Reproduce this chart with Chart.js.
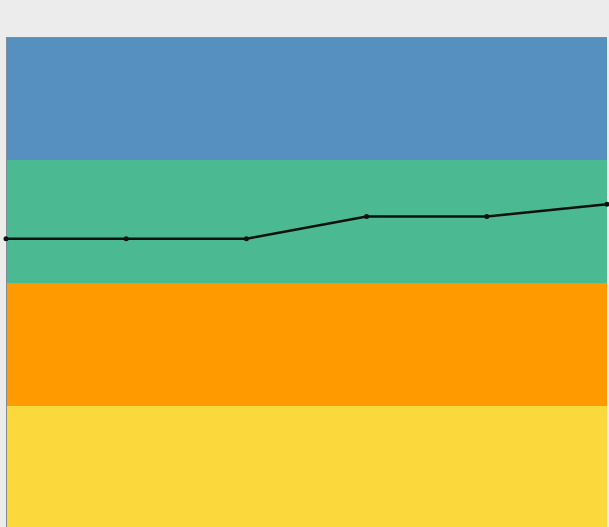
<!DOCTYPE html>
<html>
<head>
<meta charset="utf-8">
<script src="https://cdn.jsdelivr.net/npm/chart.js@4"></script>
<style>
  html, body { margin: 0; padding: 0; background: #ececec; overflow: hidden; }
  #wrap { width: 609px; height: 530px; }
</style>
</head>
<body>
<div id="wrap"><canvas id="c" width="609" height="530"></canvas></div>
<script>
const categories = ["1", "2", "3", "4", "5", "6"];
const seriesValues = [59, 59, 59, 63.5, 63.5, 66];
const bandFrom = [0, 25, 50, 75];
const bandTo = [25, 50, 75, 100];
const bandColors = ["#fbd93d", "#ff9a00", "#4bb991", "#5590c0"];

const bandsPlugin = {
  id: 'bands',
  beforeDatasetsDraw(chart) {
    const { ctx, chartArea, scales } = chart;
    const y = scales.y;
    ctx.save();
    for (let i = 0; i < bandFrom.length; i++) {
      const top = y.getPixelForValue(bandTo[i]);
      const bot = y.getPixelForValue(bandFrom[i]);
      ctx.fillStyle = bandColors[i];
      ctx.fillRect(chartArea.left, top, chartArea.right - chartArea.left, bot - top);
    }
    ctx.strokeStyle = '#7f8c96';
    ctx.lineWidth = 1;
    ctx.beginPath();
    ctx.moveTo(chartArea.left + 0.5, chartArea.bottom);
    ctx.lineTo(chartArea.left + 0.5, chartArea.top + 0.5);
    ctx.lineTo(chartArea.right, chartArea.top + 0.5);
    ctx.stroke();
    ctx.restore();
  }
};

new Chart(document.getElementById('c'), {
  type: 'line',
  data: {
    labels: categories,
    datasets: [{
      data: seriesValues,
      borderColor: '#111111',
      backgroundColor: '#111111',
      borderWidth: 2.5,
      pointRadius: 2.5,
      pointBackgroundColor: '#111111',
      pointBorderWidth: 0,
      tension: 0,
      clip: false
    }]
  },
  options: {
    responsive: false,
    animation: false,
    layout: { autoPadding: false, padding: { left: 6, right: 2, top: 37, bottom: 1 } },
    plugins: { legend: { display: false }, tooltip: { enabled: false } },
    scales: {
      x: { display: false, offset: false },
      y: { display: false, min: 0, max: 100 }
    }
  },
  plugins: [bandsPlugin]
});
</script>
</body>
</html>
